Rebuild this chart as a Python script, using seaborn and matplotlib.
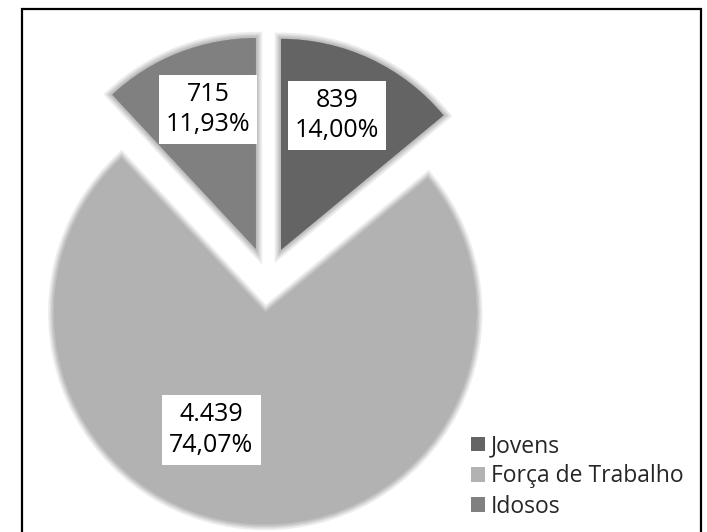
import matplotlib
matplotlib.use('Agg')
import matplotlib.pyplot as plt
import seaborn as sns
import numpy as np
from matplotlib import patheffects as pe
from matplotlib.patches import Rectangle, Patch

# ---- data ----
categories = ['Jovens', 'Força de Trabalho', 'Idosos']
values = [839, 4439, 715]
colors = ['#646464', '#b2b2b2', '#808080']

# ---- style ----
explode = [0.15, 0.164, 0.15]
label_dist = [0.69, 0.61, 0.70]
label_angle_offset = [2.7, -21.0, -2.5]

sns.set_theme(style='white')
plt.rcParams['font.family'] = ['Open Sans', 'DejaVu Sans']

W, H = 707, 532
fig = plt.figure(figsize=(W / 100, H / 100), dpi=100)
fig.patch.set_facecolor('white')
ax = fig.add_axes([0, 0, 1, 1])

R = 211.0  # pixel radius
cx_px, cy_px = 267.5, 278.5

palette = sns.color_palette(colors)
shadow = [pe.Stroke(linewidth=lw, foreground='black', alpha=0.07) for lw in (9, 6.5, 4.5, 2.5)] + [pe.Normal()]
wedges, _ = ax.pie(values, colors=palette, startangle=90, counterclock=False,
                   explode=explode, radius=1, center=(0, 0),
                   wedgeprops=dict(linewidth=0, path_effects=shadow))

ax.set_xlim(-cx_px / R, (W - cx_px) / R)
ax.set_ylim(-(H - cy_px) / R, cy_px / R)
ax.set_aspect('equal')
ax.axis('off')

total = sum(values)
for w, v, off, d in zip(wedges, values, label_angle_offset, label_dist):
    mid = np.deg2rad((w.theta1 + w.theta2) / 2 + off)
    x0, y0 = w.center
    x = x0 + d * w.r * np.cos(mid)
    y = y0 + d * w.r * np.sin(mid)
    txt = f"{v:,}".replace(',', '.') + "\n" + f"{v / total * 100:.2f}".replace('.', ',') + '%'
    ax.text(x, y, txt, ha='center', va='center', fontsize=18, color='black',
            linespacing=1.3,
            bbox=dict(boxstyle='square,pad=0.28', facecolor='white', edgecolor='none'))

handles = [Patch(facecolor=c, edgecolor='none') for c in palette]
fig.legend(handles=handles, labels=categories, loc='upper left',
           bbox_to_anchor=(471 / W, 1 - 434 / H), frameon=False, fontsize=16.5,
           handlelength=0.62, handleheight=0.62, handletextpad=0.25,
           labelspacing=0.28, borderpad=0, borderaxespad=0)

fig.add_artist(Rectangle((22 / W, -0.05), (701 - 22) / W, 1.05 - 9 / H,
                         transform=fig.transFigure, fill=False, lw=1.6, ec='black'))

fig.savefig('out.png', dpi=100, facecolor='white')
